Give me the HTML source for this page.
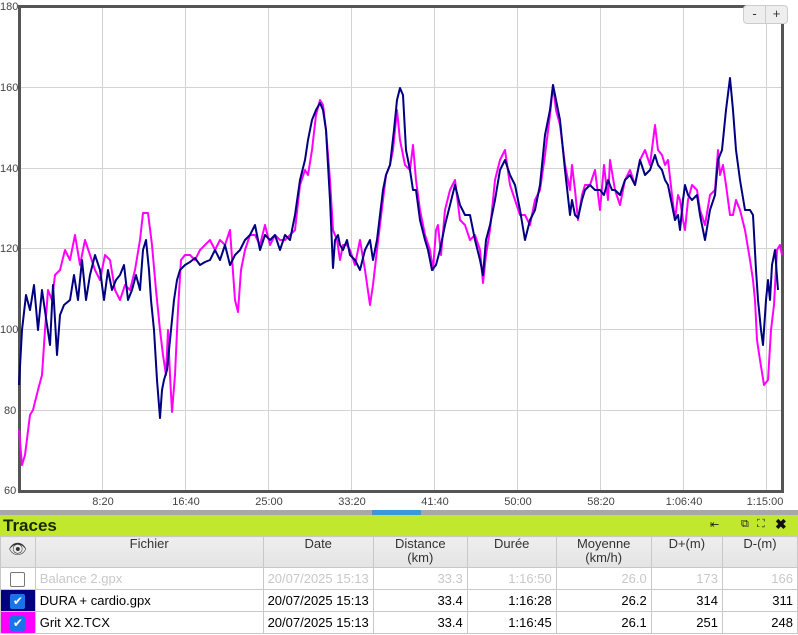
<!DOCTYPE html>
<html><head><meta charset="utf-8"><style>
body{margin:0;width:798px;height:635px;overflow:hidden;background:#fff;font-family:"Liberation Sans",Arial,sans-serif;position:relative}
svg{position:absolute;left:0;top:0}
.bar{position:absolute;left:0;top:510px;width:798px;height:5px;background:#a8a8a8}
.blue{position:absolute;left:372px;top:510px;width:49px;height:5px;background:#3a98d8}
.green{position:absolute;left:0;top:515px;width:798px;height:21px;background:#c2e82e}
.green b{position:absolute;left:3px;top:1px;font-size:17px;color:#1a2a00}
table{position:absolute;left:0;top:536px;border-collapse:collapse;font-size:13px;table-layout:fixed}
td,th{border:1px solid #c8c8c8;padding:0 4px;height:21px;line-height:21px;white-space:nowrap;overflow:hidden}
th{font-weight:normal;color:#333;background:linear-gradient(#eee,#e4e4e4);height:30px;vertical-align:top;padding:0 4px;line-height:14px}
td.r{text-align:right}
td.c{text-align:center}
tr.g td{color:#c8c8c8}
.cb{display:inline-block;width:13px;height:13px;border:1px solid #777;border-radius:2px;background:#fff;vertical-align:middle}
.ck{display:inline-block;width:15px;height:15px;border-radius:2px;background:#1a73e8;color:#fff;font-size:12px;line-height:15px;text-align:center;vertical-align:middle}
.btn{position:absolute;top:5px;height:17px;background:#eee;border:1px solid #ccc;font-size:13px;text-align:center;line-height:16px;color:#333}
</style></head><body>
<svg width="798" height="510">
<g stroke="#d3d3d3" stroke-width="1">
<line x1="19" y1="87.5" x2="782" y2="87.5"/><line x1="19" y1="168.5" x2="782" y2="168.5"/><line x1="19" y1="248.5" x2="782" y2="248.5"/><line x1="19" y1="329.5" x2="782" y2="329.5"/><line x1="19" y1="410.5" x2="782" y2="410.5"/>
<line x1="102.5" y1="6" x2="102.5" y2="491"/><line x1="185.5" y1="6" x2="185.5" y2="491"/><line x1="268.5" y1="6" x2="268.5" y2="491"/><line x1="351.5" y1="6" x2="351.5" y2="491"/><line x1="434.5" y1="6" x2="434.5" y2="491"/><line x1="517.5" y1="6" x2="517.5" y2="491"/><line x1="600.5" y1="6" x2="600.5" y2="491"/><line x1="683.5" y1="6" x2="683.5" y2="491"/><line x1="766.5" y1="6" x2="766.5" y2="491"/>
</g>
<rect x="19.5" y="6.5" width="763" height="485" fill="none" stroke="#555" stroke-width="3"/>
<g font-size="11" fill="#444" font-family="Liberation Sans,Arial,sans-serif">
<text x="0" y="10">180</text><text x="0" y="91">160</text><text x="0" y="172">140</text><text x="0" y="252">120</text><text x="0" y="333">100</text><text x="4" y="414">80</text><text x="4" y="494">60</text>
<g text-anchor="middle"><text x="103" y="505">8:20</text><text x="186" y="505">16:40</text><text x="269" y="505">25:00</text><text x="352" y="505">33:20</text><text x="435" y="505">41:40</text><text x="518" y="505">50:00</text><text x="601" y="505">58:20</text><text x="684" y="505">1:06:40</text><text x="765" y="505">1:15:00</text></g>
</g>
<polyline fill="none" stroke="#ff00ff" stroke-width="2" stroke-linejoin="round" points="19,430 22,465 25,455 30,415 33,410 38,390 42,375 45,330 48,290 52,300 55,275 60,270 65,250 70,260 75,235 80,265 85,240 90,255 95,270 100,280 105,255 110,260 115,290 120,300 125,285 130,290 135,270 140,240 143,213 148,213 152,245 156,290 160,330 163,355 166,375 168,330 170,375 172,412 175,375 178,310 181,260 185,255 190,255 195,260 200,250 205,245 210,240 215,250 220,240 225,245 230,230 235,300 238,312 241,270 245,250 250,235 255,235 260,245 265,225 270,245 275,235 280,240 285,240 290,235 295,230 300,185 305,170 308,175 312,150 316,115 320,100 323,105 326,130 330,180 333,230 337,240 340,260 343,245 347,245 350,250 355,265 360,240 365,270 370,305 373,285 377,250 380,225 383,200 386,175 390,165 393,150 397,110 400,140 405,165 410,170 413,145 416,180 420,210 425,235 430,250 433,270 436,230 438,225 441,255 445,210 450,190 455,180 460,220 465,225 470,240 475,235 480,250 483,283 486,255 490,230 495,180 500,160 505,150 510,185 515,200 520,215 525,215 530,225 535,200 540,190 545,155 550,115 553,85 556,110 560,125 565,165 570,190 572,165 575,190 578,220 582,195 585,185 590,185 595,170 600,210 604,165 608,200 610,160 615,190 620,205 625,180 630,170 635,185 640,160 645,150 650,165 655,125 658,150 662,155 665,165 668,160 672,195 675,220 678,195 680,200 683,220 685,230 688,200 692,185 697,190 700,210 705,225 710,195 715,190 718,150 720,175 723,165 726,185 730,215 733,215 736,200 740,210 745,230 750,260 753,280 755,300 757,340 760,360 764,385 768,380 771,330 774,305 777,250 780,245 782,255"/>
<polyline fill="none" stroke="#000080" stroke-width="2" stroke-linejoin="round" points="19,385 22,330 26,295 30,310 34,285 38,330 42,290 46,318 50,345 53,285 57,355 60,315 64,305 70,300 74,275 78,300 82,260 86,300 90,275 95,255 100,270 104,300 108,270 112,290 116,280 120,275 124,265 128,300 132,290 136,275 140,290 143,250 146,240 149,270 151,300 154,330 157,380 160,418 162,390 164,380 167,370 170,340 172,320 174,300 177,280 180,270 185,265 190,262 195,258 200,265 205,262 210,260 215,250 220,260 225,245 230,265 235,255 240,250 245,240 250,235 255,225 260,250 265,235 270,240 275,235 280,250 285,235 290,240 295,215 300,180 305,160 308,140 312,120 316,110 320,103 323,110 326,130 330,200 333,268 335,240 338,235 340,245 343,250 347,240 350,255 355,260 360,270 365,250 370,240 373,260 377,240 380,215 383,190 386,175 390,165 394,130 397,100 400,88 403,95 406,150 410,170 413,190 416,190 420,220 425,240 428,250 432,270 436,265 440,250 445,225 450,205 455,185 460,205 465,215 470,215 475,240 480,260 483,275 486,240 490,225 495,200 500,170 505,160 510,175 515,185 520,210 525,240 530,220 535,210 540,185 545,135 550,110 553,85 556,100 560,120 565,170 570,215 572,200 575,215 578,218 582,200 585,190 590,185 595,190 600,190 604,195 608,180 612,190 615,190 620,195 625,180 630,175 635,185 640,160 645,175 650,170 655,155 658,165 662,170 665,180 668,185 672,205 675,220 678,215 680,230 683,200 685,185 688,195 692,200 697,195 700,215 705,240 710,210 715,195 718,160 722,150 726,110 730,78 733,110 736,150 740,180 745,210 750,210 753,215 756,270 758,300 761,330 763,345 766,300 768,280 770,300 772,265 775,250 778,290"/>
</svg>
<div class="btn" style="left:743px;width:21px;border-radius:4px 0 0 4px">-</div>
<div class="btn" style="left:765px;width:21px;border-radius:0 4px 4px 0">+</div>
<div class="bar"></div><div class="blue"></div>
<div class="green"><b>Traces</b>
<span style="position:absolute;left:710px;top:3px;font-size:11px;color:#222">⇤</span>
<span style="position:absolute;left:741px;top:3px;font-size:11px;color:#222">⧉</span>
<span style="position:absolute;left:757px;top:3px;font-size:11px;color:#222">⛶</span>
<span style="position:absolute;left:775px;top:1px;font-size:14px;font-weight:bold;color:#111">✖</span>
</div>
<table>
<colgroup><col style="width:35px"><col style="width:231px"><col style="width:103px"><col style="width:95px"><col style="width:90px"><col style="width:96px"><col style="width:72px"><col style="width:76px"></colgroup>
<tr><th style="font-size:15px;padding-top:6px;height:24px">👁</th><th>Fichier</th><th>Date</th><th>Distance<br>(km)</th><th>Durée</th><th>Moyenne<br>(km/h)</th><th>D+(m)</th><th>D-(m)</th></tr>
<tr class="g"><td class="c"><span class="cb"></span></td><td>Balance 2.gpx</td><td class="r">20/07/2025 15:13</td><td class="r">33.3</td><td class="r">1:16:50</td><td class="r">26.0</td><td class="r">173</td><td class="r">166</td></tr>
<tr><td class="c" style="background:#000080"><span class="ck">✔</span></td><td>DURA + cardio.gpx</td><td class="r">20/07/2025 15:13</td><td class="r">33.4</td><td class="r">1:16:28</td><td class="r">26.2</td><td class="r">314</td><td class="r">311</td></tr>
<tr><td class="c" style="background:#ff00ff"><span class="ck">✔</span></td><td>Grit X2.TCX</td><td class="r">20/07/2025 15:13</td><td class="r">33.4</td><td class="r">1:16:45</td><td class="r">26.1</td><td class="r">251</td><td class="r">248</td></tr>
</table>
</body></html>
